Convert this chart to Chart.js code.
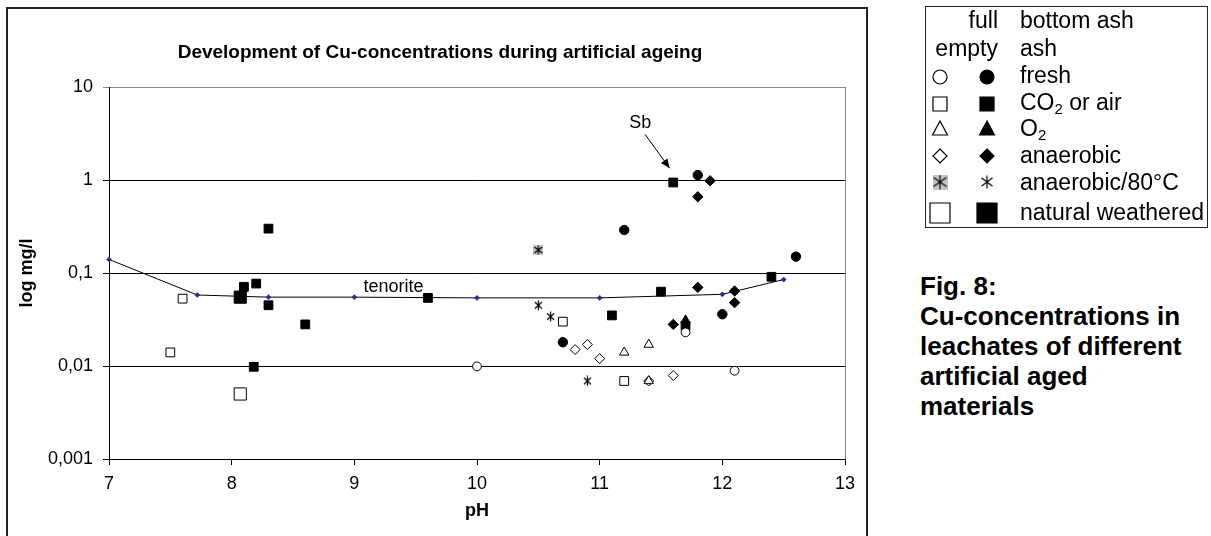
<!DOCTYPE html>
<html>
<head>
<meta charset="utf-8">
<title>Cu-concentrations during artificial ageing</title>
<script src="https://cdn.jsdelivr.net/npm/chart.js@4"></script>
<style>
body{margin:0;width:1211px;height:536px;position:relative;overflow:hidden;background:#fff;font-family:"Liberation Sans",Arial,sans-serif;color:#000}
#frame{position:absolute;left:6px;top:7px;width:862px;height:545px;border:2px solid #222;box-sizing:border-box}
#chart{position:absolute;left:0;top:0}
#title{position:absolute;left:0;width:880px;top:41px;line-height:22px;text-align:center;font-weight:bold;font-size:19px}
#legbox{position:absolute;left:925px;top:6px;width:283px;height:222px;border:1.5px solid #222;box-sizing:border-box}
#legsym{position:absolute;left:925px;top:6px}
.lt{position:absolute;font-size:23px;line-height:26px;white-space:nowrap}
.lt sub{font-size:15px;vertical-align:-4px;line-height:0}
#caption{position:absolute;left:920px;top:271px;font-size:26px;font-weight:bold;line-height:30px;white-space:nowrap}
</style>
</head>
<body>
<div id="frame"></div>
<canvas id="chart" width="880" height="536"></canvas>
<div id="title">Development of Cu-concentrations during artificial ageing</div>
<div id="legbox"></div>
<canvas id="legsym" width="283" height="222"></canvas>
<div id="legtext"></div>
<div id="caption">Fig. 8:<br>Cu-concentrations in<br>leachates of different<br>artificial aged<br>materials</div>
<script>
// axis ticks
const phTicks = [7, 8, 9, 10, 11, 12, 13];
const cuTicks = [0.001, 0.01, 0.1, 1, 10];
const cuTickLabels = ["0,001", "0,01", "0,1", "1", "10"];

// [pH, Cu mg/l] - empty = ash, full = bottom ash
const freshEmpty = [[10.0, 0.0099], [12.1, 0.0089], [11.7, 0.023]];
const freshFull = [[11.8, 1.13], [11.2, 0.29], [12.6, 0.15], [12.0, 0.036], [10.7, 0.018]];
const co2Empty = [[7.6, 0.053], [7.5, 0.014], [10.7, 0.030], [11.2, 0.0069]];
const co2Full = [[8.3, 0.30], [8.1, 0.071], [8.2, 0.077], [8.3, 0.045], [8.6, 0.028], [8.18, 0.0098],
  [9.6, 0.054], [11.6, 0.94], [12.4, 0.091], [11.5, 0.063], [11.1, 0.035], [11.7, 0.027]];
const o2Empty = [[11.2, 0.014], [11.4, 0.017], [11.4, 0.0069]];
const o2Full = [[11.7, 0.031]];
const anaerobicEmpty = [[10.8, 0.015], [10.9, 0.017], [11.0, 0.012], [11.6, 0.0079], [11.4, 0.0069]];
const anaerobicFull = [[11.9, 0.98], [11.8, 0.66], [11.8, 0.070], [12.1, 0.064], [12.1, 0.048], [11.6, 0.028]];
const anaerobic80Empty = [[10.5, 0.177]];
const anaerobic80Full = [[10.5, 0.045], [10.6, 0.034], [10.9, 0.0069]];
const naturalEmpty = [[8.07, 0.005]];
const naturalFull = [[8.07, 0.055]];
const tenorite = [[7, 0.14], [7.72, 0.058], [8.3, 0.055], [9, 0.055], [10, 0.054], [11, 0.054], [12, 0.059], [12.5, 0.085]];

// annotations (data coords)
const tenoriteNote = { text: "tenorite", ph: 9.32, cu: 0.07 };
const sbNote = { text: "Sb", ph: 11.33, cu: 4.1, fromPh: 11.37, fromCu: 3.1, toPh: 11.57, toCu: 1.34 };

const legendLabels = ["fresh", "CO<sub>2</sub> or air", "O<sub>2</sub>", "anaerobic", "anaerobic/80°C", "natural weathered"];

const FONT = '"Liberation Sans", Arial, sans-serif';

function asteriskCanvas(w, h, gray) {
  const c = document.createElement("canvas");
  c.width = w; c.height = h;
  const g = c.getContext("2d");
  if (gray) { g.fillStyle = "#c4c4c4"; g.fillRect(0, 0, w, h); }
  g.strokeStyle = "#000";
  g.lineWidth = 1.2;
  g.beginPath();
  g.moveTo(w / 2, 0.5); g.lineTo(w / 2, h - 0.5);
  g.moveTo(1, h * 0.2); g.lineTo(w - 1, h * 0.8);
  g.moveTo(w - 1, h * 0.2); g.lineTo(1, h * 0.8);
  g.stroke();
  return c;
}

const starFull = asteriskCanvas(9, 11, false);
const starBox = asteriskCanvas(10, 10, true);

function pts(arr) { return arr.map(p => ({ x: p[0], y: p[1] })); }

function marker(label, arr, style, radius, filled) {
  return {
    label: label, data: pts(arr), pointStyle: style, pointRadius: radius,
    backgroundColor: filled ? "#000" : "#fff", borderColor: "#000",
    pointBorderWidth: 1, showLine: false, clip: false
  };
}

const datasets = [
  marker("fresh full", freshFull, "circle", 4.7, true),
  marker("fresh empty", freshEmpty, "circle", 4.4, false),
  marker("O2 full", o2Full, "triangle", 5.4, true),
  marker("O2 empty", o2Empty, "triangle", 5.4, false),
  marker("CO2 full", co2Full, "rect", 6.2, true),
  marker("CO2 empty", co2Empty, "rect", 6.2, false),
  marker("anaerobic full", anaerobicFull, "rectRot", 5.2, true),
  marker("anaerobic empty", anaerobicEmpty, "rectRot", 5, false),
  marker("anaerobic/80 full", anaerobic80Full, starFull, 5, true),
  marker("anaerobic/80 empty", anaerobic80Empty, starBox, 5, false),
  marker("natural full", naturalFull, "rect", 8.6, true),
  marker("natural empty", naturalEmpty, "rect", 8.6, false),
  {
    label: "tenorite", data: pts(tenorite), showLine: true, borderColor: "#000", borderWidth: 1,
    pointStyle: "rectRot", pointRadius: 2.6, backgroundColor: "#2b2b9a", pointBorderColor: "#2b2b9a",
    pointBorderWidth: 0.5, clip: false, tension: 0
  }
];

const notesPlugin = {
  id: "notes",
  beforeDraw(chart) {
    const a = chart.chartArea, ctx = chart.ctx;
    ctx.save();
    ctx.strokeStyle = "#8a8a8a";
    ctx.lineWidth = 1;
    ctx.strokeRect(a.left + 0.5, a.top + 0.5, a.right - a.left, a.bottom - a.top);
    ctx.restore();
  },
  afterDatasetsDraw(chart) {
    const ctx = chart.ctx, sx = chart.scales.x, sy = chart.scales.y;
    ctx.save();
    ctx.fillStyle = "#000";
    ctx.font = "18px " + FONT;
    ctx.textAlign = "center";
    ctx.textBaseline = "middle";
    ctx.fillText(tenoriteNote.text, sx.getPixelForValue(tenoriteNote.ph), sy.getPixelForValue(tenoriteNote.cu));
    ctx.fillText(sbNote.text, sx.getPixelForValue(sbNote.ph), sy.getPixelForValue(sbNote.cu));
    // arrow to the Sb point
    const x0 = sx.getPixelForValue(sbNote.fromPh), y0 = sy.getPixelForValue(sbNote.fromCu);
    const x1 = sx.getPixelForValue(sbNote.toPh), y1 = sy.getPixelForValue(sbNote.toCu);
    const ang = Math.atan2(y1 - y0, x1 - x0);
    ctx.strokeStyle = "#000";
    ctx.lineWidth = 1;
    ctx.beginPath();
    ctx.moveTo(x0, y0);
    ctx.lineTo(x1, y1);
    ctx.stroke();
    ctx.beginPath();
    ctx.moveTo(x1, y1);
    ctx.lineTo(x1 - 10 * Math.cos(ang - 0.4), y1 - 10 * Math.sin(ang - 0.4));
    ctx.lineTo(x1 - 10 * Math.cos(ang + 0.4), y1 - 10 * Math.sin(ang + 0.4));
    ctx.closePath();
    ctx.fill();
    ctx.restore();
  }
};

new Chart(document.getElementById("chart"), {
  type: "scatter",
  data: { datasets: datasets },
  options: {
    responsive: false,
    animation: false,
    events: [],
    layout: { padding: { top: 87, right: 35, bottom: 0, left: 0 } },
    plugins: { legend: { display: false }, tooltip: { enabled: false } },
    scales: {
      x: {
        type: "linear", min: 7, max: 13,
        afterBuildTicks: s => { s.ticks = phTicks.map(v => ({ value: v })); },
        afterFit: s => { s.height = 77; },
        grid: { drawOnChartArea: false, drawTicks: true, tickLength: 6, color: "#000" },
        border: { color: "#000", width: 1 },
        ticks: { color: "#000", font: { family: FONT, size: 18 }, padding: 8, maxRotation: 0, autoSkip: false },
        title: { display: true, text: "pH", color: "#000", font: { family: FONT, size: 18, weight: "bold" }, padding: { top: 0, bottom: 14 } }
      },
      y: {
        type: "logarithmic", min: 0.001, max: 10,
        afterBuildTicks: s => { s.ticks = cuTicks.map(v => ({ value: v })); },
        afterFit: s => { s.width = 109; },
        grid: {
          drawTicks: true, tickLength: 6, lineWidth: 1,
          color: c => (c.tick && c.tick.value === 10 ? "#8a8a8a" : "#000")
        },
        border: { color: "#000", width: 1 },
        ticks: {
          color: "#000", font: { family: FONT, size: 18 }, padding: 10, autoSkip: false,
          callback: (v, i) => cuTickLabels[i]
        },
        title: { display: true, text: "log mg/l", color: "#000", font: { family: FONT, size: 18, weight: "bold" }, padding: { top: 16, bottom: 0 } }
      }
    }
  },
  plugins: [notesPlugin]
});

// legend: symbols on a small canvas, words as html text
const legendSymbolRows = [77, 104, 129, 156, 182, 213];
const legendBaselines = [28, 56, 83, 110, 136, 163, 190, 220];
const emptyX = 940, fullX = 987;

function drawSym(g, kind, x, y, filled) {
  g.fillStyle = filled ? "#000" : "#fff";
  g.strokeStyle = "#000";
  g.lineWidth = 1.2;
  g.beginPath();
  if (kind === "circle") g.arc(x, y, 7, 0, Math.PI * 2);
  else if (kind === "square") g.rect(x - 7, y - 7, 14, 14);
  else if (kind === "big") g.rect(x - 10, y - 10, 20, 20);
  else if (kind === "triangle") { g.moveTo(x, y - 8); g.lineTo(x + 7.5, y + 6); g.lineTo(x - 7.5, y + 6); g.closePath(); }
  else if (kind === "diamond") { g.moveTo(x, y - 7); g.lineTo(x + 7, y); g.lineTo(x, y + 7); g.lineTo(x - 7, y); g.closePath(); }
  g.fill();
  g.stroke();
}

const lg = document.getElementById("legsym").getContext("2d");
const ox = 925, oy = 6;
const kinds = ["circle", "square", "triangle", "diamond", "star", "big"];
kinds.forEach((k, i) => {
  const y = legendSymbolRows[i] - oy;
  if (k === "star") {
    lg.drawImage(asteriskCanvas(15, 15, true), emptyX - ox - 7.5, y - 7.5);
    lg.drawImage(asteriskCanvas(13, 14, false), fullX - ox - 6.5, y - 7);
  } else {
    drawSym(lg, k, emptyX - ox, y, false);
    drawSym(lg, k, fullX - ox, y, true);
  }
});

const lt = document.getElementById("legtext");
function addText(html, left, baseline, right) {
  const d = document.createElement("div");
  d.className = "lt";
  d.innerHTML = html;
  d.style.top = (baseline - 21) + "px";
  if (right) { d.style.left = (left - 100) + "px"; d.style.width = "100px"; d.style.textAlign = "right"; }
  else d.style.left = left + "px";
  lt.appendChild(d);
}
addText("full", 998, legendBaselines[0], true);
addText("bottom ash", 1020, legendBaselines[0]);
addText("empty", 998, legendBaselines[1], true);
addText("ash", 1020, legendBaselines[1]);
legendLabels.forEach((t, i) => addText(t, 1020, legendBaselines[i + 2]));
</script>
</body>
</html>
